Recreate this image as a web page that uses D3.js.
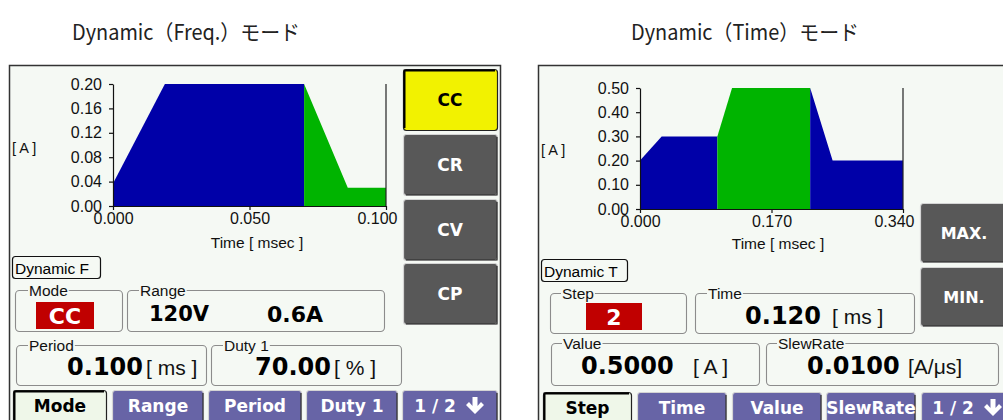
<!DOCTYPE html>
<html><head><meta charset="utf-8">
<script src="https://cdn.jsdelivr.net/npm/d3@7"></script>
<style>
body{margin:0;background:#fff;}
svg{display:block;}
</style></head>
<body>
<svg id="c" width="1003" height="420"></svg>
<script>
// ---------- data ----------
const titles = ["Dynamic（Freq.）モード", "Dynamic（Time）モード"];
// Freq. mode waveform (time in msec, current in A)
const freqBlueT  = [0, 0.019, 0.070];
const freqBlueA  = [0.037, 0.20, 0.20];
const freqGreenT = [0.070, 0.086, 0.100];
const freqGreenA = [0.20, 0.03, 0.03];
const freqYTicks = [0, 0.04, 0.08, 0.12, 0.16, 0.20];
const freqXTicks = [0, 0.050, 0.100];
// Time mode waveform
const timeBlue1T = [0, 0.028, 0.100];
const timeBlue1A = [0.20, 0.30, 0.30];
const timeGreenT = [0.100, 0.119, 0.220];
const timeGreenA = [0.30, 0.50, 0.50];
const timeBlue2T = [0.220, 0.249, 0.340];
const timeBlue2A = [0.50, 0.20, 0.20];
const timeYTicks = [0, 0.10, 0.20, 0.30, 0.40, 0.50];
const timeXTicks = [0, 0.170, 0.340];
// texts
const freqModeBtns = ["CC", "CR", "CV", "CP"];
const freqBottomBtns = ["Mode", "Range", "Period", "Duty 1", "1 / 2"];
const timeSideBtns = ["MAX.", "MIN."];
const timeBottomBtns = ["Step", "Time", "Value", "SlewRate", "1 / 2"];

// ---------- helpers ----------
const svg = d3.select("#c");
const BG = "#f5f9f4", BLUE = "#0000a8", GREEN = "#00b400";
const SANS = "'Liberation Sans', Arial, sans-serif";
const BOLD = "'DejaVu Sans', Verdana, sans-serif";

function button(x, y, w, h, label, kind) {
  const g = svg.append("g");
  const fills = {gray: "#585858", yellow: "#f2f200", purple: "#6764a6", light: "#eff7e9"};
  const pressed = kind === "yellow" || kind === "light";
  g.append("rect").attr("x", x + 0.5).attr("y", y + 0.5).attr("width", w - 1).attr("height", h - 1)
    .attr("rx", 3).attr("fill", fills[kind])
    .attr("stroke", pressed ? "#222" : "#d4d4d4").attr("stroke-width", 1.2);
  if (!pressed) {
    g.append("path").attr("d", `M${x + w - 1},${y + 3}V${y + h - 1}H${x + 3}`)
      .attr("fill", "none").attr("stroke", "#2a2a2a").attr("stroke-width", 1.2);
  } else {
    g.append("path").attr("d", `M${x + 1.5},${y + h - 3}V${y + 1.5}H${x + w - 3}`)
      .attr("fill", "none").attr("stroke", "#000").attr("stroke-width", 2);
  }
  return g;
}
function btnText(g, cx, cy, label, color, size) {
  g.append("text").attr("x", cx).attr("y", cy).attr("text-anchor", "middle")
    .attr("dominant-baseline", "central").attr("font-family", BOLD).attr("font-weight", "bold")
    .attr("font-size", size).attr("fill", color).text(label);
}
function arrow(g, cx, cy) {
  g.append("path").attr("d",
    `M${cx - 2.5},${cy - 8}H${cx + 2.5}V${cy + 1}L${cx + 6},${cy - 3}L${cx + 9},${cy}L${cx},${cy + 9}L${cx - 9},${cy}L${cx - 6},${cy - 3}L${cx - 2.5},${cy + 1}Z`)
    .attr("fill", "#fff");
}
function groupBox(x, y, w, h, label, labelX) {
  svg.append("rect").attr("x", x + 0.5).attr("y", y + 0.5).attr("width", w).attr("height", h)
    .attr("rx", 4).attr("fill", "none").attr("stroke", "#8c8c8c").attr("stroke-width", 1.1);
  const t = svg.append("text").attr("x", labelX).attr("y", y + 0.5).attr("dominant-baseline", "central")
    .attr("font-family", SANS).attr("font-size", 15.5).attr("fill", "#111").text(label);
  const bb = t.node().getBBox();
  svg.insert("rect", () => t.node()).attr("x", bb.x - 1).attr("y", y - 2).attr("width", bb.width + 2)
    .attr("height", 5).attr("fill", BG);
}
function valText(x, y, s, anchor, size, color) {
  svg.append("text").attr("x", x).attr("y", y).attr("text-anchor", anchor).attr("dominant-baseline", "central")
    .attr("font-family", BOLD).attr("font-weight", "bold").attr("font-size", size).attr("fill", color || "#000").text(s);
}
function unitText(x, y, s, size) {
  svg.append("text").attr("x", x).attr("y", y).attr("dominant-baseline", "central")
    .attr("font-family", SANS).attr("font-size", size).attr("fill", "#111").text(s);
}
function redBox(x, y, w, h, s) {
  svg.append("rect").attr("x", x).attr("y", y).attr("width", w).attr("height", h).attr("fill", "#c00000");
  valText(x + w / 2, y + h / 2 + 1, s, "middle", 22, "#fff");
}
function tagBox(x, y, w, h, s) {
  svg.append("rect").attr("x", x + 0.5).attr("y", y + 0.5).attr("width", w).attr("height", h)
    .attr("rx", 3).attr("fill", "none").attr("stroke", "#111").attr("stroke-width", 1.2);
  svg.append("text").attr("x", x + 3).attr("y", y + h / 2 + 1).attr("dominant-baseline", "central")
    .attr("font-family", SANS).attr("font-size", 15.5).attr("fill", "#000").text(s);
}

function plot(cfg) {
  const x = d3.scaleLinear().domain([0, cfg.xTicks[cfg.xTicks.length - 1]]).range([cfg.x0, cfg.x1]);
  const y = d3.scaleLinear().domain([0, cfg.yTicks[cfg.yTicks.length - 1]]).range([cfg.y0, cfg.y1]);
  const area = d3.area().x(d => x(d[0])).y0(y(0)).y1(d => y(d[1]));
  cfg.series.forEach(s => {
    svg.append("path").datum(d3.zip(s.t, s.a)).attr("d", area).attr("fill", s.color);
  });
  const ya = svg.append("g").attr("transform", `translate(${cfg.x0},0)`)
    .call(d3.axisLeft(y).tickValues(cfg.yTicks).tickFormat(d3.format(".2f")).tickSize(4).tickPadding(7).tickSizeOuter(0));
  const xa = svg.append("g").attr("transform", `translate(0,${cfg.y0})`)
    .call(d3.axisBottom(x).tickValues(cfg.xTicks).tickFormat(d3.format(".3f")).tickSize(4).tickPadding(3).tickSizeOuter(0));
  [ya, xa].forEach(a => {
    a.selectAll("path,line").attr("stroke", "#111").attr("stroke-width", 1.2);
    a.selectAll("text").attr("font-family", SANS).attr("font-size", 16).attr("fill", "#111");
  });
  xa.selectAll(".tick:last-of-type text").attr("text-anchor", "end").attr("x", 11);
  svg.append("line").attr("x1", x.range()[1]).attr("x2", x.range()[1]).attr("y1", y(y.domain()[1])).attr("y2", y(0))
    .attr("stroke", "#222").attr("stroke-width", 1.2);
  svg.append("text").attr("x", cfg.aLabel[0]).attr("y", cfg.aLabel[1]).attr("dominant-baseline", "central")
    .attr("font-family", SANS).attr("font-size", 14.5).attr("fill", "#111").text("[ A ]");
  svg.append("text").attr("x", cfg.tLabel[0]).attr("y", cfg.tLabel[1]).attr("text-anchor", "middle")
    .attr("dominant-baseline", "central").attr("font-family", SANS).attr("font-size", 15.5).attr("fill", "#111")
    .text("Time [ msec ]");
}

// ---------- titles ----------
[[186, titles[0]], [745, titles[1]]].forEach(([cx, s]) => {
  svg.append("text").attr("x", cx).attr("y", 31).attr("text-anchor", "middle").attr("dominant-baseline", "central")
    .attr("font-family", "'Noto Sans CJK JP', sans-serif").attr("font-size", 21).attr("fill", "#222")
    .attr("textLength", 228).attr("lengthAdjust", "spacingAndGlyphs").text(s);
});

// ---------- LEFT panel (Freq.) ----------
svg.append("rect").attr("x", 9.5).attr("y", 65.5).attr("width", 491).attr("height", 370)
  .attr("fill", BG).attr("stroke", "#333").attr("stroke-width", 1.5);
plot({x0: 113, x1: 386, y0: 206, y1: 84, xTicks: freqXTicks, yTicks: freqYTicks,
  aLabel: [12, 148], tLabel: [257, 242],
  series: [{t: freqBlueT, a: freqBlueA, color: BLUE}, {t: freqGreenT, a: freqGreenA, color: GREEN}]});
tagBox(12, 256, 88, 22, "Dynamic  F");
groupBox(15, 290, 107, 41, "Mode", 29);
redBox(36, 302, 58, 27, "CC");
groupBox(127, 290, 257, 41, "Range", 140);
valText(149, 314, "120V", "start", 21);
valText(267, 314, "0.6A", "start", 22);
groupBox(16, 345, 190, 40, "Period", 29);
valText(143, 367, "0.100", "end", 24);
unitText(146, 367, "[ ms ]", 21);
groupBox(211, 345, 190, 40, "Duty 1", 224);
valText(331, 367, "70.00", "end", 24);
unitText(334, 367, "[ % ]", 21);
// side mode buttons
const sideY = [69, 134, 199, 263];
freqModeBtns.forEach((b, i) => {
  const g = button(403, sideY[i], 95, 62, b, i === 0 ? "yellow" : "gray");
  btnText(g, 450, sideY[i] + 31, b, i === 0 ? "#000" : "#fff", 17);
});
// bottom buttons
const fbX = [13, 112, 208, 306, 402], fbW = [94, 92, 94, 92, 96];
freqBottomBtns.forEach((b, i) => {
  const g = button(fbX[i], 390, fbW[i], 40, b, i === 0 ? "light" : "purple");
  if (i === 4) { btnText(g, fbX[i] + 33, 406, b, "#fff", 17); arrow(g, fbX[i] + 73, 405); }
  else btnText(g, fbX[i] + fbW[i] / 2, 406, b, i === 0 ? "#000" : "#fff", 17);
});

// ---------- RIGHT panel (Time) ----------
svg.append("rect").attr("x", 538.5).attr("y", 65.5).attr("width", 500).attr("height", 370)
  .attr("fill", BG).attr("stroke", "#333").attr("stroke-width", 1.5);
plot({x0: 640, x1: 903, y0: 209, y1: 88, xTicks: timeXTicks, yTicks: timeYTicks,
  aLabel: [541, 150], tLabel: [778, 243],
  series: [{t: timeBlue1T, a: timeBlue1A, color: BLUE}, {t: timeGreenT, a: timeGreenA, color: GREEN},
           {t: timeBlue2T, a: timeBlue2A, color: BLUE}]});
tagBox(541, 259, 86, 22, "Dynamic  T");
groupBox(550, 293, 136, 40, "Step", 562);
redBox(586, 303, 56, 27, "2");
groupBox(695, 293, 219, 40, "Time", 708);
valText(821, 316, "0.120", "end", 24);
unitText(832, 316, "[ ms ]", 21);
groupBox(551, 343, 208, 42, "Value", 563);
valText(581, 366, "0.5000", "start", 24);
unitText(693, 366, "[ A ]", 21);
groupBox(766, 343, 232, 42, "SlewRate", 778);
valText(807, 366, "0.0100", "start", 24);
unitText(908, 366, "[A/μs]", 21);
const tsY = [203, 267];
timeSideBtns.forEach((b, i) => {
  const g = button(920, tsY[i], 95, 60, b, "gray");
  btnText(g, 964, tsY[i] + 30, b, "#fff", 16);
});
const tbX = [543, 637, 732, 826, 921], tbW = [89, 90, 90, 90, 96];
timeBottomBtns.forEach((b, i) => {
  const g = button(tbX[i], 392, tbW[i], 40, b, i === 0 ? "light" : "purple");
  if (i === 4) { btnText(g, tbX[i] + 32, 408, b, "#fff", 17); arrow(g, tbX[i] + 72, 407); }
  else btnText(g, tbX[i] + tbW[i] / 2, 408, b, i === 0 ? "#000" : "#fff", 17);
});
</script>
</body></html>
